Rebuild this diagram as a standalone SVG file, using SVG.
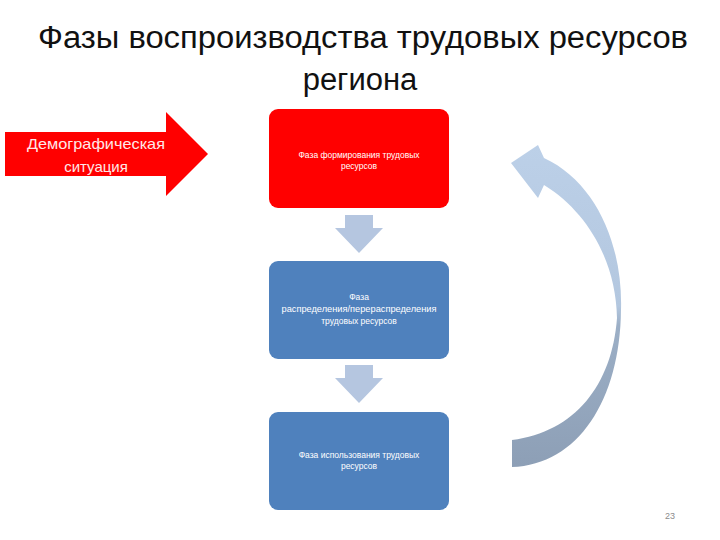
<svg xmlns="http://www.w3.org/2000/svg" width="720" height="540" viewBox="0 0 720 540">
  <defs>
    <style>
      .title { font-family: "Liberation Sans", "DejaVu Sans", sans-serif; font-size: 31px; fill: #111111; text-anchor: middle; }
      .box { stroke: none; }
      .red { fill: #FF0000; }
      .blue { fill: #4F81BD; }
      .btxt { font-family: "Liberation Sans", "DejaVu Sans", sans-serif; font-size: 8.5px; fill: #FFFFFF; text-anchor: middle; }
      .ltxt { font-family: "Liberation Sans", "DejaVu Sans", sans-serif; font-size: 15px; fill: #FFE8E8; text-anchor: middle; }
      .down { fill: #B5C6E0; }
      .pnum { font-family: "Liberation Sans", "DejaVu Sans", sans-serif; font-size: 9px; fill: #8C8C8C; text-anchor: middle; }
    </style>
    <linearGradient id="curveGrad" x1="0" y1="145" x2="0" y2="467" gradientUnits="userSpaceOnUse">
      <stop offset="0" stop-color="#BCD0E8"/>
      <stop offset="0.5" stop-color="#B3C7DF"/>
      <stop offset="0.56" stop-color="#9CAFC6"/>
      <stop offset="1" stop-color="#8D9FB6"/>
    </linearGradient>
  </defs>
  <rect width="720" height="540" fill="#FFFFFF"/>

  <g id="title">
    <text class="title" x="363" y="48" textLength="650" lengthAdjust="spacingAndGlyphs">Фазы воспроизводства трудовых ресурсов</text>
    <text class="title" x="360" y="90">региона</text>
  </g>

  <g id="demography">
    <polygon class="red" points="5,132 166,132 166,112 208,154 166,196 166,176 5,176"/>
    <text class="ltxt" x="96" y="149" textLength="138" lengthAdjust="spacingAndGlyphs">Демографическая</text>
    <text class="ltxt" x="96" y="172">ситуация</text>
  </g>

  <g id="phase1">
    <rect class="box red" x="269" y="109" width="180" height="99" rx="9" ry="9"/>
    <text class="btxt" x="359" y="158">Фаза формирования трудовых</text>
    <text class="btxt" x="359" y="169">ресурсов</text>
  </g>

  <g id="phase2">
    <rect class="box blue" x="269" y="261" width="180" height="98" rx="9" ry="9"/>
    <text class="btxt" x="359" y="300">Фаза</text>
    <text class="btxt" x="359" y="312" textLength="155" lengthAdjust="spacingAndGlyphs">распределения/перераспределения</text>
    <text class="btxt" x="359" y="324">трудовых ресурсов</text>
  </g>

  <g id="phase3">
    <rect class="box blue" x="269" y="412" width="180" height="98" rx="9" ry="9"/>
    <text class="btxt" x="359" y="458">Фаза использования трудовых</text>
    <text class="btxt" x="359" y="469">ресурсов</text>
  </g>

  <g id="connectors">
    <polygon class="down" points="345,215 373,215 373,228 383,228 359,253 335,228 345,228"/>
    <polygon class="down" points="345,365 373,365 373,378 383,378 359,403 335,378 345,378"/>
    <path fill="url(#curveGrad)" d="M512,440 C575,432 612,385 617,318 C616,262 588,212 544,185 L538,198 L511,163 L538,145 L544,158 C596,182 623,245 621,310 C620,400 578,465 512,467 Z"/>
  </g>

  <g id="page-number">
    <text class="pnum" x="670" y="519">23</text>
  </g>
</svg>
